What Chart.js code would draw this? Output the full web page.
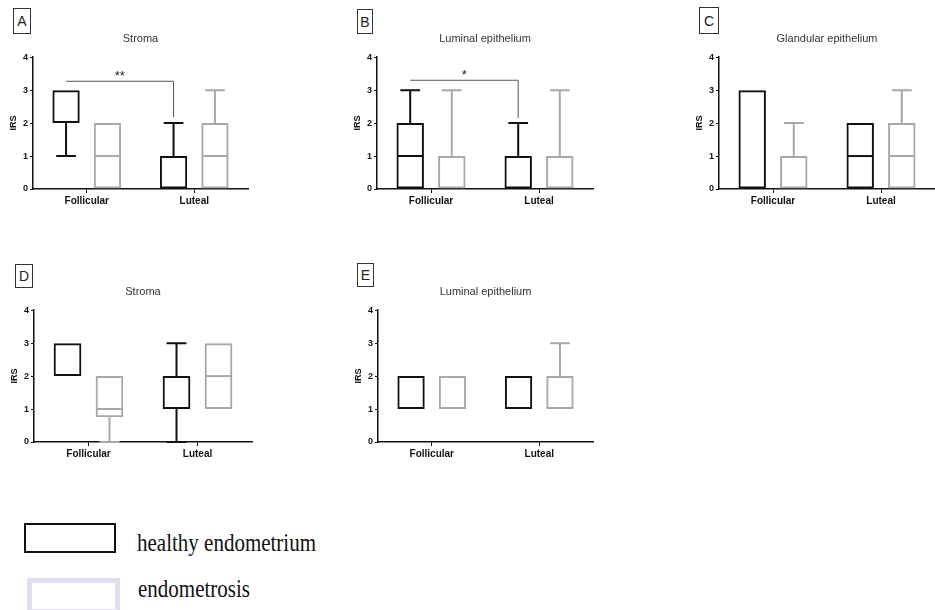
<!DOCTYPE html>
<html lang="en">
<head>
<meta charset="UTF-8">
<title>IRS boxplots</title>
<script src="https://cdn.jsdelivr.net/npm/chart.js@4.4.1/dist/chart.umd.min.js"></script>
<style>
    body { margin: 0; background: #fff; width: 935px; height: 610px; overflow: hidden; position: relative; }
    canvas { position: absolute; }
    .tag {
        position: absolute; box-sizing: border-box; border: 1px solid #333;
        font: 14px "Liberation Sans", Arial, sans-serif; color: #222;
        display: flex; align-items: center; justify-content: center;
    }
    .key { position: absolute; box-sizing: border-box; }
    .keytext {
        position: absolute; font: 21px/21px "Liberation Serif", "Times New Roman", serif; color: #111;
        white-space: nowrap; transform: scaleY(1.17); transform-origin: 0 0;
    }
</style>
</head>
<body>
    <div class="tag" style="left:13px;top:8px;width:18px;height:26px">A</div>
    <div class="tag" style="left:357px;top:9px;width:16px;height:25px">B</div>
    <div class="tag" style="left:699px;top:7px;width:20px;height:27px">C</div>
    <div class="tag" style="left:15px;top:264px;width:18px;height:24px">D</div>
    <div class="tag" style="left:357px;top:263px;width:17px;height:24px">E</div>

    <canvas id="chartA" width="260" height="215" style="left:0;top:0"></canvas>
    <canvas id="chartB" width="260" height="215" style="left:344px;top:0"></canvas>
    <canvas id="chartC" width="249" height="215" style="left:686px;top:0"></canvas>
    <canvas id="chartD" width="260" height="215" style="left:1px;top:253px"></canvas>
    <canvas id="chartE" width="260" height="215" style="left:345px;top:253px"></canvas>

    <div class="key" style="left:24px;top:523px;width:92px;height:30px;border:2px solid #111"></div>
    <div class="keytext" style="left:137px;top:531px">healthy endometrium</div>
    <div class="key" style="left:27px;top:578px;width:93px;height:36px;border:5px solid #e3deef"></div>
    <div class="keytext" style="left:138px;top:577px">endometrosis</div>

<script>
    var categories = ['Follicular', 'Luteal'];
    var groups = ['healthy endometrium', 'endometrosis'];
    var yTicks = [0, 1, 2, 3, 4];

    // five-number summaries [min, q1, median, q3, max], one per category
    var stromaHealthyA = [[1, 2, 3, 3, 3], [0, 0, 1, 1, 2]];
    var stromaEndoA = [[0, 0, 1, 2, 2], [0, 0, 1, 2, 3]];
    var luminalHealthyB = [[0, 0, 1, 2, 3], [0, 0, 1, 1, 2]];
    var luminalEndoB = [[0, 0, 1, 1, 3], [0, 0, 1, 1, 3]];
    var glandHealthyC = [[0, 0, 3, 3, 3], [0, 0, 1, 2, 2]];
    var glandEndoC = [[0, 0, 1, 1, 2], [0, 0, 1, 2, 3]];
    var stromaHealthyD = [[2, 2, 3, 3, 3], [0, 1, 2, 2, 3]];
    var stromaEndoD = [[0, 0.75, 1, 2, 2], [1, 1, 2, 3, 3]];
    var luminalHealthyE = [[1, 1, 2, 2, 2], [1, 1, 2, 2, 2]];
    var luminalEndoE = [[1, 1, 2, 2, 2], [1, 1, 2, 2, 3]];

    // significance brackets: healthy follicular vs healthy luteal
    var sigLabelsA = ['**'];
    var sigLevelsA = [3.27, 2.18];
    var sigLabelsB = ['*'];
    var sigLevelsB = [3.3, 2.15];

    var BLACK = '#111';
    var GREY = '#a8a8a8';
    var FONT = '"Liberation Sans", Arial, sans-serif';

    var boxExtras = {
        id: 'boxExtras',
        afterDatasetsDraw: function(chart, args, opts) {
            var ctx = chart.ctx;
            var ys = chart.scales.y;
            ctx.save();
            chart.data.datasets.forEach(function(ds, di) {
                var meta = chart.getDatasetMeta(di);
                ctx.strokeStyle = ds.borderColor;
                ctx.lineWidth = 2;
                ds.stats.forEach(function(s, i) {
                    var bar = meta.data[i];
                    var x = bar.x, w = bar.width;
                    ctx.beginPath();
                    // median, only when it falls inside the box
                    if (s[2] > s[1] && s[2] < s[3]) {
                        ctx.moveTo(x - w / 2 + 1, ys.getPixelForValue(s[2]));
                        ctx.lineTo(x + w / 2 - 1, ys.getPixelForValue(s[2]));
                    }
                    // upper whisker
                    if (s[4] > s[3]) {
                        ctx.moveTo(x, ys.getPixelForValue(s[3]));
                        ctx.lineTo(x, ys.getPixelForValue(s[4]));
                        ctx.moveTo(x - w * 0.36, ys.getPixelForValue(s[4]));
                        ctx.lineTo(x + w * 0.36, ys.getPixelForValue(s[4]));
                    }
                    // lower whisker
                    if (s[0] < s[1]) {
                        ctx.moveTo(x, ys.getPixelForValue(s[1]));
                        ctx.lineTo(x, ys.getPixelForValue(s[0]));
                        ctx.moveTo(x - w * 0.36, ys.getPixelForValue(s[0]));
                        ctx.lineTo(x + w * 0.36, ys.getPixelForValue(s[0]));
                    }
                    ctx.stroke();
                });
            });
            if (opts.sig) {
                var meta0 = chart.getDatasetMeta(0);
                var x1 = meta0.data[0].x, x2 = meta0.data[1].x;
                var yTop = ys.getPixelForValue(opts.sig.levels[0]);
                var yEnd = ys.getPixelForValue(opts.sig.levels[1]);
                ctx.strokeStyle = '#555';
                ctx.lineWidth = 1;
                ctx.beginPath();
                ctx.moveTo(x1, yTop);
                ctx.lineTo(x2, yTop);
                ctx.lineTo(x2, yEnd);
                ctx.stroke();
                ctx.fillStyle = '#222';
                ctx.font = '13px ' + FONT;
                ctx.textAlign = 'center';
                ctx.textBaseline = 'bottom';
                ctx.fillText(opts.sig.labels[0], (x1 + x2) / 2, yTop + 2);
            }
            ctx.restore();
        }
    };

    function make_panel(element_id, title, healthy, endo, sig, padRight) {
        return new Chart(document.getElementById(element_id), {
            type: 'bar',
            plugins: [boxExtras],
            data: {
                labels: categories,
                datasets: [
                    {
                        label: groups[0],
                        data: healthy.map(function(s) { return [s[1], s[3]]; }),
                        stats: healthy,
                        borderColor: BLACK,
                        backgroundColor: 'rgba(255,255,255,0)',
                        borderWidth: 2,
                        borderSkipped: false
                    },
                    {
                        label: groups[1],
                        data: endo.map(function(s) { return [s[1], s[3]]; }),
                        stats: endo,
                        borderColor: GREY,
                        backgroundColor: 'rgba(255,255,255,0)',
                        borderWidth: 2,
                        borderSkipped: false
                    }
                ]
            },
            options: {
                responsive: false,
                devicePixelRatio: 1,
                animation: false,
                events: [],
                barPercentage: 0.66,
                categoryPercentage: 0.77,
                layout: { padding: { left: 0, right: padRight, top: 0, bottom: 0 } },
                plugins: {
                    legend: { display: false },
                    tooltip: { enabled: false },
                    title: {
                        display: true,
                        text: title,
                        fullSize: false,
                        color: '#333',
                        font: { family: FONT, size: 11, weight: 'normal' },
                        padding: { top: 32, bottom: 12 }
                    },
                    boxExtras: { sig: sig }
                },
                scales: {
                    x: {
                        offset: true,
                        grid: { display: true, drawOnChartArea: false, drawTicks: true, tickLength: 4, offset: false, color: BLACK },
                        border: { display: true, color: BLACK, width: 1.5 },
                        ticks: { color: BLACK, padding: 2, font: { family: FONT, size: 10, weight: 'bold' } },
                        afterFit: function(scale) { scale.height = 26; }
                    },
                    y: {
                        min: yTicks[0],
                        max: yTicks[yTicks.length - 1],
                        afterBuildTicks: function(scale) {
                            scale.ticks = yTicks.map(function(v) { return { value: v }; });
                        },
                        grid: { display: true, drawOnChartArea: false, drawTicks: true, tickLength: 3, color: BLACK },
                        border: { display: true, color: BLACK, width: 1.5 },
                        ticks: { color: BLACK, padding: 2, font: { family: FONT, size: 9, weight: 'bold' } },
                        title: {
                            display: true,
                            text: 'IRS',
                            color: BLACK,
                            font: { family: FONT, size: 9, weight: 'bold' },
                            padding: { top: 8, bottom: 0 }
                        },
                        afterFit: function(scale) { scale.width = 33; }
                    }
                }
            }
        });
    }

    window._charts = [
        make_panel('chartA', 'Stroma', stromaHealthyA, stromaEndoA, { labels: sigLabelsA, levels: sigLevelsA }, 12),
        make_panel('chartB', 'Luminal epithelium', luminalHealthyB, luminalEndoB, { labels: sigLabelsB, levels: sigLevelsB }, 11),
        make_panel('chartC', 'Glandular epithelium', glandHealthyC, glandEndoC, null, 0),
        make_panel('chartD', 'Stroma', stromaHealthyD, stromaEndoD, null, 9),
        make_panel('chartE', 'Luminal epithelium', luminalHealthyE, luminalEndoE, null, 12)
    ];
</script>
</body>
</html>
